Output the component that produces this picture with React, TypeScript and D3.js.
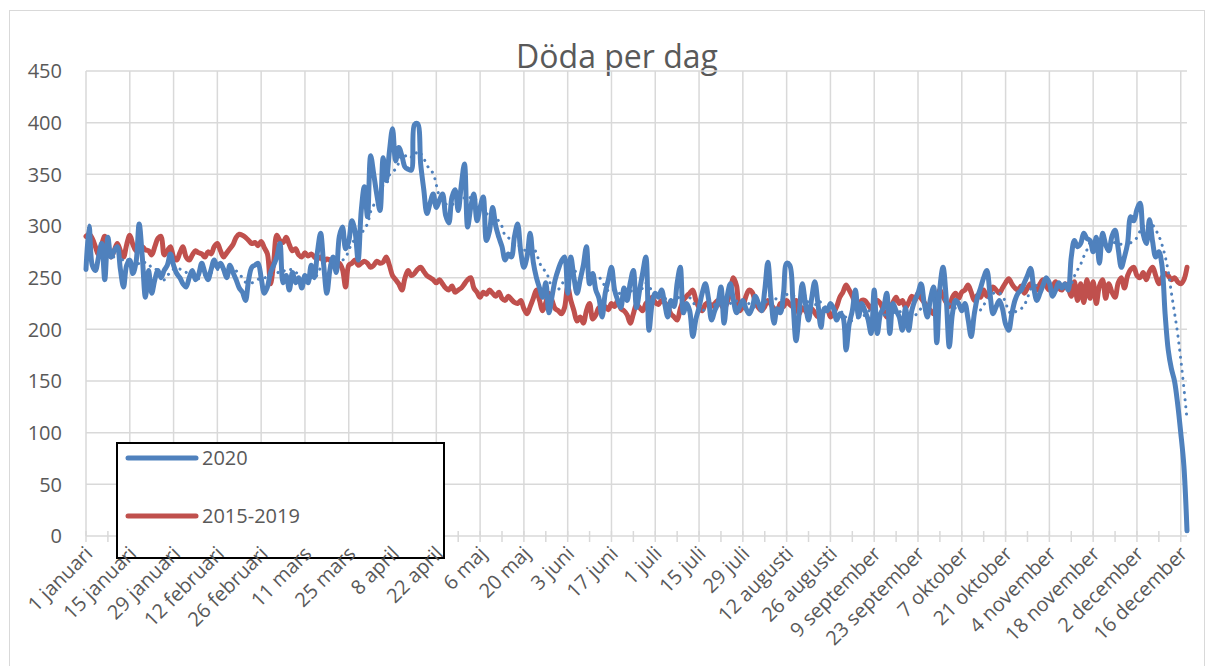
import * as d3 from "d3";

// Döda per dag, 1 januari – 18 december (one value per day)
const tickLabels = [
  "1 januari", "15 januari", "29 januari", "12 februari", "26 februari", "11 mars",
  "25 mars", "8 april", "22 april", "6 maj", "20 maj", "3 juni", "17 juni",
  "1 juli", "15 juli", "29 juli", "12 augusti", "26 augusti", "9 september",
  "23 september", "7 oktober", "21 oktober", "4 november", "18 november",
  "2 december", "16 december",
];

const yTicks = [0, 50, 100, 150, 200, 250, 300, 350, 400, 450];

const deaths2020 = [
  258, 300, 262, 257, 270, 283, 248, 289, 270, 276, 280, 258, 241, 262,
  267, 254, 265, 302, 270, 231, 257, 235, 248, 257, 250, 257, 262, 273,
  262, 254, 250, 244, 241, 250, 257, 248, 253, 264, 255, 248, 258, 267,
  260, 264, 258, 250, 262, 255, 248, 240, 236, 228, 248, 260, 262, 264,
  250, 235, 241, 255, 262, 270, 283, 245, 252, 238, 255, 245, 250, 240,
  252, 245, 262, 250, 275, 293, 262, 235, 258, 270, 255, 290, 299, 278,
  285, 305, 295, 267, 315, 338, 309, 368, 350, 330, 315, 366, 344, 372,
  394, 363, 376, 368, 357, 355, 354, 398, 399, 360, 335, 312, 322, 331,
  318, 325, 331, 310, 303, 328, 335, 315, 340, 360, 299, 318, 331, 305,
  318, 328, 286, 295, 318, 300, 289, 280, 267, 273, 270, 290, 302, 275,
  260, 270, 293, 265, 250, 240, 231, 245, 216, 232, 248, 258, 266, 270,
  235, 270, 250, 235, 248, 262, 280, 244, 254, 238, 230, 212, 235, 248,
  260, 238, 228, 221, 240, 228, 245, 257, 221, 238, 255, 270, 199, 225,
  235, 231, 238, 225, 212, 228, 222, 245, 260, 216, 225, 218, 193, 210,
  221, 235, 244, 230, 209, 218, 225, 241, 206, 232, 244, 228, 216, 222,
  228, 220, 215, 221, 232, 225, 218, 238, 265, 230, 206, 220, 216, 235,
  264, 262, 228, 189, 215, 244, 225, 209, 230, 246, 225, 202, 220, 218,
  225, 220, 209, 215, 212, 180, 205, 218, 238, 212, 225, 218, 210, 196,
  238, 196, 215, 221, 235, 196, 225, 218, 212, 199, 221, 199, 218, 228,
  235, 244, 225, 212, 230, 241, 187, 240, 260, 231, 183, 215, 228, 225,
  218, 225, 210, 193, 215, 231, 240, 250, 257, 235, 215, 222, 228, 220,
  205, 199, 215, 228, 235, 238, 245, 252, 259, 240, 228, 235, 243, 250,
  245, 232, 238, 245, 240, 244, 238, 270, 286, 280, 283, 293, 288, 286,
  275, 289, 264, 293, 282, 276, 290, 296, 278, 260, 270, 283, 309, 305,
  316, 322, 292, 283, 306, 285, 270, 275, 262, 215, 180, 162, 150, 128,
  100, 68, 5,
];

const deaths2015to2019 = [
  290, 292, 288, 280, 272, 282, 290, 278, 270, 276, 283, 276, 270, 282,
  291, 282, 276, 278, 280, 277, 276, 272, 280, 288, 290, 272, 276, 280,
  270, 267, 274, 280, 270, 267, 272, 276, 274, 273, 270, 275, 273, 280,
  283, 276, 270, 274, 278, 282, 289, 292, 291, 289, 286, 283, 284, 281,
  285, 279, 273, 244, 265, 291, 286, 284, 289, 282, 276, 278, 272, 270,
  274, 271, 273, 270, 268, 270, 266, 268, 267, 262, 260, 264, 258, 241,
  262, 264, 267, 262, 264, 266, 264, 260, 262, 266, 264, 265, 270, 262,
  252, 248, 244, 238, 250, 257, 252, 254, 258, 260, 256, 252, 250, 248,
  245, 248, 244, 240, 238, 242, 236, 238, 240, 244, 248, 250, 240, 236,
  231, 236, 234, 238, 235, 232, 236, 230, 228, 232, 229, 226, 225, 228,
  220, 215, 222, 230, 238, 228, 218, 226, 235, 228, 220, 218, 215, 221,
  241, 228, 218, 208, 212, 206, 218, 225, 210, 214, 221, 218, 222, 219,
  225, 222, 228, 220, 218, 214, 206, 215, 224, 221, 218, 225, 228, 231,
  226, 224, 228, 226, 222, 215, 212, 209, 220, 228, 232, 235, 238, 228,
  221, 218, 224, 226, 222, 225, 228, 224, 220, 226, 238, 250, 242, 218,
  222, 232, 238, 236, 226, 221, 218, 222, 228, 224, 220, 218, 225, 222,
  228, 224, 222, 228, 215, 221, 218, 214, 220, 216, 212, 215, 218, 220,
  212, 216, 222, 231, 236, 243, 238, 232, 225, 222, 228, 228, 224, 220,
  226, 228, 225, 218, 212, 220, 226, 231, 225, 228, 221, 226, 232, 228,
  235, 230, 226, 222, 218, 215, 228, 238, 232, 226, 222, 231, 235, 230,
  236, 238, 243, 236, 228, 233, 231, 238, 232, 236, 241, 238, 235, 240,
  245, 249, 244, 240, 238, 242, 235, 240, 244, 240, 238, 244, 248, 242,
  238, 241, 246, 240, 238, 244, 240, 232, 246, 228, 244, 226, 248, 230,
  246, 225, 242, 248, 230, 244, 236, 231, 245, 250, 240, 252, 258, 260,
  252, 250, 255, 248, 256, 260, 252, 244, 250, 254, 252, 248, 250, 246,
  244, 248, 260,
];

const BLUE = "#4f81bd";
const RED = "#c0504d";
const GRID = "#d9d9d9";
const TEXT = "#595959";
const FONT = "'Open Sans', 'Noto Sans', sans-serif";

const W = 1215;
const H = 666;
const plot = { left: 86, right: 1187, top: 71, bottom: 536 };

export default function App() {
  const n = deaths2020.length;
  const x = d3.scaleLinear().domain([0, n - 1]).range([plot.left, plot.right]);
  const y = d3.scaleLinear().domain([0, 450]).range([plot.bottom, plot.top]);

  const line = d3
    .line<number>()
    .x((_, i) => x(i))
    .y((d) => y(d))
    .curve(d3.curveCatmullRom);

  // 7-day moving average trendline (Excel style, starts at the 7th point)
  const period = 7;
  const ma: [number, number][] = [];
  for (let i = period - 1; i < n; i++) {
    ma.push([i, d3.mean(deaths2020.slice(i - period + 1, i + 1)) as number]);
  }
  const maLine = d3
    .line<[number, number]>()
    .x((d) => x(d[0]))
    .y((d) => y(d[1]))
    .curve(d3.curveCatmullRom);

  const majorDays = tickLabels.map((_, i) => i * 14);
  const minorDays = d3.range(0, n, 7);

  return (
    <svg
      width={W}
      height={H}
      style={{ position: "absolute", left: 0, top: 0, background: "#fff" }}
      fontFamily={FONT}
    >
      <rect x={9.5} y={10.5} width={1195} height={670} fill="#fff" stroke={GRID} strokeWidth={1} />

      <text x={617} y={68} textAnchor="middle" fontSize={32} fill={TEXT}>
        Döda per dag
      </text>

      {/* horizontal gridlines + y labels */}
      {yTicks.map((t) => (
        <g key={t}>
          <line x1={plot.left} x2={plot.right} y1={y(t)} y2={y(t)} stroke={GRID} strokeWidth={1.5} />
          <text x={62} y={y(t)} dy="0.36em" textAnchor="end" fontSize={20} fill={TEXT}>
            {t}
          </text>
        </g>
      ))}

      {/* vertical gridlines */}
      {majorDays.map((d) => (
        <line key={d} x1={x(d)} x2={x(d)} y1={plot.top} y2={plot.bottom} stroke={GRID} strokeWidth={1.5} />
      ))}

      {/* tick marks */}
      {minorDays.map((d) => (
        <line key={"t" + d} x1={x(d)} x2={x(d)} y1={plot.bottom - 5} y2={plot.bottom + 6} stroke={GRID} strokeWidth={1.5} />
      ))}

      {/* legend (sits under the axis labels) */}
      <g>
        <rect x={117} y={443} width={327} height={115} fill="#fff" stroke="#000" strokeWidth={2} />
        <line x1={128} x2={196} y1={458} y2={458} stroke={BLUE} strokeWidth={5} strokeLinecap="round" />
        <text x={202} y={458} dy="0.36em" fontSize={20} fill={TEXT}>2020</text>
        <line x1={128} x2={196} y1={516} y2={516} stroke={RED} strokeWidth={5} strokeLinecap="round" />
        <text x={202} y={516} dy="0.36em" fontSize={20} fill={TEXT}>2015-2019</text>
      </g>

      {/* x labels */}
      {tickLabels.map((lab, i) => (
        <text
          key={lab}
          transform={`translate(${x(majorDays[i]) - 2},${plot.bottom + 9}) rotate(-45)`}
          textAnchor="end"
          dy="0.7em"
          fontSize={20}
          fill={TEXT}
        >
          {lab}
        </text>
      ))}

      <path d={line(deaths2015to2019) ?? ""} fill="none" stroke={RED} strokeWidth={5} strokeLinejoin="round" strokeLinecap="round" />
      <path d={line(deaths2020) ?? ""} fill="none" stroke={BLUE} strokeWidth={5} strokeLinejoin="round" strokeLinecap="round" />
      <path
        d={maLine(ma) ?? ""}
        fill="none"
        stroke={BLUE}
        strokeWidth={3}
        strokeDasharray="0.1 7"
        strokeLinecap="round"
      />
    </svg>
  );
}
